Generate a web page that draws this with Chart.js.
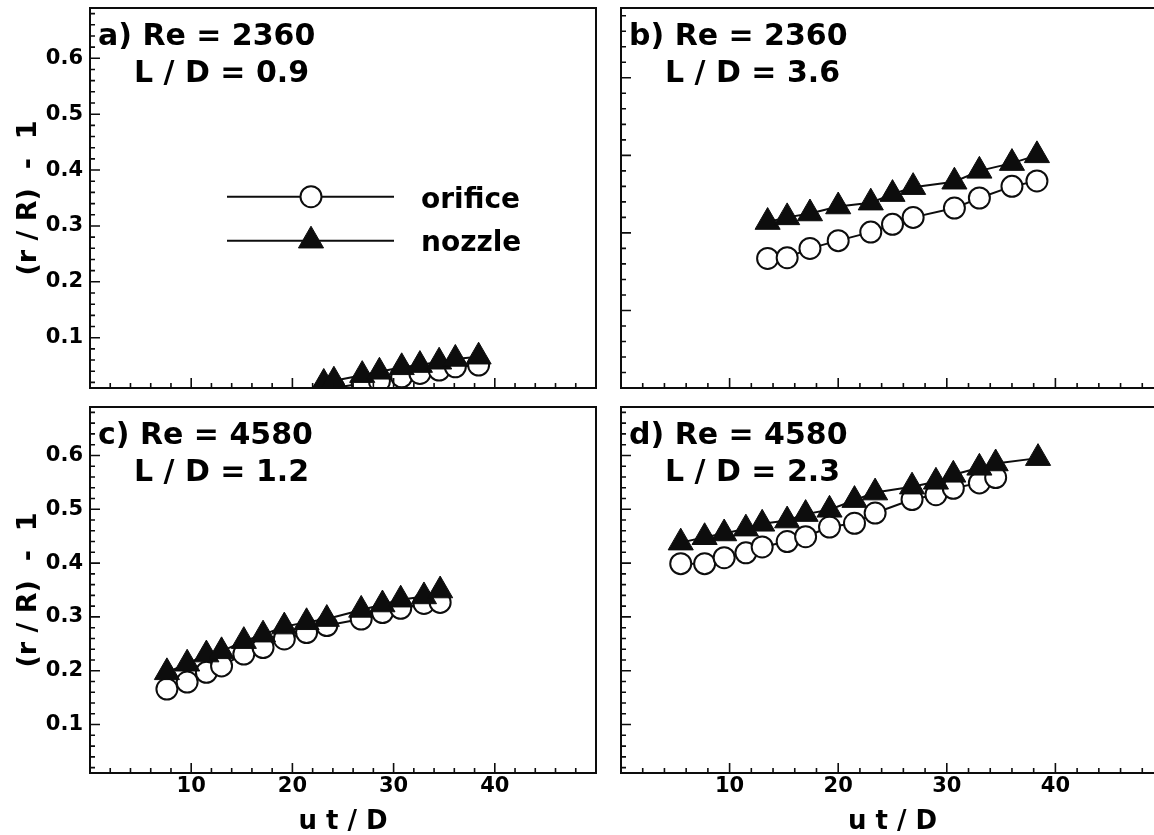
<!DOCTYPE html>
<html>
<head>
<meta charset="utf-8">
<script src="https://cdn.jsdelivr.net/npm/chart.js@4.4.1/dist/chart.umd.min.js"></script>
<style>
html, body { margin: 0; padding: 0; background: #fff; overflow: hidden; }
#wrap { position: relative; width: 1154px; height: 835px; overflow: hidden; background: #fff; }
.pn { position: absolute; }
</style>
</head>
<body>
<div id="wrap">
  <canvas id="ca" class="pn" style="left:0px;top:0px;"></canvas>
  <canvas id="cb" class="pn" style="left:605px;top:0px;"></canvas>
  <canvas id="cc" class="pn" style="left:0px;top:395px;"></canvas>
  <canvas id="cd" class="pn" style="left:605px;top:395px;"></canvas>
</div>
<script>
// ---------------- data ----------------
const seriesNames = ['orifice', 'nozzle'];
const panelTitles = ['a) Re = 2360', 'b) Re = 2360', 'c) Re = 4580', 'd) Re = 4580'];
const panelLD = ['L / D = 0.9', 'L / D = 3.6', 'L / D = 1.2', 'L / D = 2.3'];
const xTitle = 'u t / D';
const yTitle = '(r / R)  -  1';

// panel a
const xA = [23.1, 24.1, 26.9, 28.6, 30.8, 32.6, 34.5, 36.1, 38.4];
const orificeA = [0.004, 0.010, 0.018, 0.022, 0.030, 0.036, 0.042, 0.048, 0.051];
const nozzleA = [0.019, 0.023, 0.033, 0.039, 0.047, 0.051, 0.057, 0.062, 0.066];

// panel b
const xB = [13.5, 15.3, 17.4, 20.0, 23.0, 25.0, 26.9, 30.7, 33.0, 36.0, 38.3];
const orificeB = [0.167, 0.168, 0.180, 0.190, 0.201, 0.211, 0.220, 0.232, 0.245, 0.260, 0.267];
const nozzleB = [0.214, 0.220, 0.225, 0.234, 0.239, 0.250, 0.259, 0.266, 0.280, 0.290, 0.300];

// panel c
const xC = [7.6, 9.6, 11.5, 13.0, 15.2, 17.1, 19.2, 21.4, 23.4, 26.8, 28.9, 30.7, 33.0, 34.6];
const orificeC = [0.166, 0.179, 0.197, 0.209, 0.231, 0.243, 0.259, 0.271, 0.284, 0.296, 0.308, 0.316, 0.325, 0.327];
const nozzleC = [0.197, 0.213, 0.230, 0.236, 0.255, 0.267, 0.282, 0.290, 0.296, 0.313, 0.323, 0.332, 0.338, 0.349];

// panel d
const xDorifice = [5.5, 7.7, 9.5, 11.5, 13.0, 15.3, 17.0, 19.2, 21.5, 23.4, 26.8, 29.0, 30.6, 33.0, 34.5];
const orificeD = [0.399, 0.399, 0.410, 0.419, 0.430, 0.440, 0.449, 0.467, 0.474, 0.493, 0.518, 0.527, 0.539, 0.549, 0.559];
const xDnozzle = [5.5, 7.7, 9.5, 11.5, 13.0, 15.3, 17.0, 19.2, 21.5, 23.4, 26.8, 29.0, 30.6, 33.0, 34.5, 38.4];
const nozzleD = [0.438, 0.448, 0.455, 0.464, 0.473, 0.479, 0.491, 0.499, 0.517, 0.531, 0.542, 0.551, 0.564, 0.577, 0.585, 0.595];

// axes
const xRange = [0, 50];
const yRange = [0.01, 0.69];
const yRangeB = [0, 0.49];
const xTickLabels = [10, 20, 30, 40];
const xMinorTicks = [2, 4, 6, 8, 12, 14, 16, 18, 22, 24, 26, 28, 32, 34, 36, 38, 42, 44, 46, 48];
const yTickLabels = [0.1, 0.2, 0.3, 0.4, 0.5, 0.6];
const yMinorTicks = [0.02, 0.04, 0.06, 0.08, 0.12, 0.14, 0.16, 0.18, 0.22, 0.24, 0.26, 0.28,
  0.32, 0.34, 0.36, 0.38, 0.42, 0.44, 0.46, 0.48, 0.52, 0.54, 0.56, 0.58, 0.62, 0.64, 0.66, 0.68];
const yMajorTicksB = [0.1, 0.2, 0.3, 0.4];
const yMinorTicksB = [0.02, 0.04, 0.06, 0.08, 0.12, 0.14, 0.16, 0.18, 0.22, 0.24, 0.26, 0.28,
  0.32, 0.34, 0.36, 0.38, 0.42, 0.44, 0.46, 0.48];

// ---------------- rendering ----------------
const FONT = "'DejaVu Sans', 'Liberation Sans', sans-serif";
Chart.defaults.font.family = FONT;
Chart.defaults.font.weight = 'bold';
Chart.defaults.font.size = 21;
Chart.defaults.color = '#000';

const INK = '#0d0d0d';

function pts(xs, ys) { return xs.map((x, i) => ({ x: x, y: ys[i] })); }

function orificeSet(xs, ys) {
  return {
    label: seriesNames[0], data: pts(xs, ys), order: 2,
    borderColor: INK, borderWidth: 2, tension: 0, fill: false,
    pointStyle: 'circle', pointRadius: 10.5, pointHoverRadius: 10.5, pointBorderWidth: 2,
    pointBackgroundColor: '#fff', pointBorderColor: INK
  };
}
function nozzleSet(xs, ys) {
  return {
    label: seriesNames[1], data: pts(xs, ys), order: 1,
    borderColor: INK, borderWidth: 2, tension: 0, fill: false,
    pointStyle: 'triangle', pointRadius: 14.5, pointHoverRadius: 14.5, pointBorderWidth: 1,
    pointBackgroundColor: INK, pointBorderColor: INK
  };
}

const framePlugin = {
  id: 'frame',
  afterDatasetsDraw(chart, args, o) {
    const ctx = chart.ctx, a = chart.chartArea, xs = chart.scales.x, ys = chart.scales.y;
    ctx.save();
    ctx.strokeStyle = INK;
    ctx.lineWidth = 1.6;
    ctx.beginPath();
    o.xMajor.forEach(v => { const p = xs.getPixelForValue(v); ctx.moveTo(p, a.bottom); ctx.lineTo(p, a.bottom - 10); });
    o.xMinor.forEach(v => { const p = xs.getPixelForValue(v); ctx.moveTo(p, a.bottom); ctx.lineTo(p, a.bottom - 5); });
    o.yMajor.forEach(v => { const p = ys.getPixelForValue(v); ctx.moveTo(a.left, p); ctx.lineTo(a.left + 10, p); });
    o.yMinor.forEach(v => { const p = ys.getPixelForValue(v); ctx.moveTo(a.left, p); ctx.lineTo(a.left + 5, p); });
    ctx.stroke();
    ctx.lineWidth = 2;
    ctx.strokeRect(a.left, a.top, a.right - a.left, a.bottom - a.top);

    // panel annotation
    ctx.fillStyle = '#000';
    ctx.font = 'bold 30px ' + FONT;
    ctx.textAlign = 'left';
    ctx.textBaseline = 'alphabetic';
    ctx.fillText(o.title, a.left + 8, a.top + 36.5);
    ctx.fillText(o.ld, a.left + 44, a.top + 74);

    if (o.legend) {
      const lx0 = 227, lx1 = 394, mx = 311;
      const rows = [
        { y: 196.7, name: seriesNames[0], style: 'circle', base: 207.5 },
        { y: 240.7, name: seriesNames[1], style: 'triangle', base: 251 }
      ];
      rows.forEach(r => {
        ctx.strokeStyle = INK; ctx.lineWidth = 2;
        ctx.beginPath(); ctx.moveTo(lx0, r.y); ctx.lineTo(lx1, r.y); ctx.stroke();
        if (r.style === 'circle') {
          ctx.beginPath(); ctx.arc(mx, r.y, 10.5, 0, Math.PI * 2);
          ctx.fillStyle = '#fff'; ctx.fill(); ctx.lineWidth = 2; ctx.stroke();
        } else {
          const R = 14.5;
          ctx.beginPath();
          ctx.moveTo(mx, r.y - R);
          ctx.lineTo(mx + R * Math.sin(2 * Math.PI / 3), r.y - R * Math.cos(2 * Math.PI / 3));
          ctx.lineTo(mx + R * Math.sin(4 * Math.PI / 3), r.y - R * Math.cos(4 * Math.PI / 3));
          ctx.closePath();
          ctx.fillStyle = INK; ctx.fill(); ctx.lineWidth = 1; ctx.stroke();
        }
        ctx.fillStyle = '#000';
        ctx.font = 'bold 28px ' + FONT;
        ctx.fillText(r.name, 421, r.base);
      });
    }
    ctx.restore();
  }
};

function makePanel(id, w, h, cfg) {
  const cv = document.getElementById(id);
  cv.width = w; cv.height = h;
  cv.style.width = w + 'px'; cv.style.height = h + 'px';
  const xAxis = {
    type: 'linear', position: 'bottom', min: xRange[0], max: xRange[1],
    display: cfg.showX,
    grid: { display: false, drawTicks: false }, border: { display: false },
    afterBuildTicks: s => { s.ticks = xTickLabels.map(v => ({ value: v })); },
    ticks: { padding: 1, autoSkip: false, maxRotation: 0, font: { size: 21, weight: 'bold' }, color: '#000' },
    title: { display: cfg.showX, text: xTitle, font: { size: 26, weight: 'bold' }, color: '#000', padding: { top: 0, bottom: 2.4 } },
    afterFit: s => { if (cfg.showX) { s.height = 67; } s.paddingLeft = 0; s.paddingRight = 0; }
  };
  const yAxis = {
    type: 'linear', position: 'left', min: cfg.yRange[0], max: cfg.yRange[1],
    display: cfg.showY,
    grid: { display: false, drawTicks: false }, border: { display: false },
    afterBuildTicks: s => { s.ticks = yTickLabels.map(v => ({ value: v })); },
    ticks: { padding: 7, font: { size: 21, weight: 'bold' }, color: '#000', callback: v => Number(v).toFixed(1) },
    title: { display: cfg.showY, text: yTitle, font: { size: 27, weight: 'bold' }, color: '#000', padding: { top: 13, bottom: 0 } },
    afterFit: s => { if (cfg.showY) { s.width = 90; } s.paddingTop = 0; s.paddingBottom = 0; }
  };
  return new Chart(cv, {
    type: 'line',
    data: { datasets: cfg.datasets },
    options: {
      responsive: false, animation: false, devicePixelRatio: 1,
      layout: { padding: cfg.padding, autoPadding: false },
      scales: { x: xAxis, y: yAxis },
      plugins: {
        legend: { display: false }, tooltip: { enabled: false },
        frame: cfg.frame
      }
    },
    plugins: [framePlugin]
  });
}

makePanel('ca', 605, 400, {
  showX: false, showY: true, yRange: yRange,
  padding: { left: 0, top: 8, right: 9, bottom: 12 },
  datasets: [orificeSet(xA, orificeA), nozzleSet(xA, nozzleA)],
  frame: { xMajor: xTickLabels, xMinor: xMinorTicks, yMajor: yTickLabels, yMinor: yMinorTicks,
           title: panelTitles[0], ld: panelLD[0], legend: true }
});
makePanel('cb', 575, 400, {
  showX: false, showY: false, yRange: yRangeB,
  padding: { left: 16, top: 8, right: 16, bottom: 12 },
  datasets: [orificeSet(xB, orificeB), nozzleSet(xB, nozzleB)],
  frame: { xMajor: xTickLabels, xMinor: xMinorTicks, yMajor: yMajorTicksB, yMinor: yMinorTicksB,
           title: panelTitles[1], ld: panelLD[1], legend: false }
});
makePanel('cc', 605, 445, {
  showX: true, showY: true, yRange: yRange,
  padding: { left: 0, top: 12, right: 9, bottom: 0 },
  datasets: [orificeSet(xC, orificeC), nozzleSet(xC, nozzleC)],
  frame: { xMajor: xTickLabels, xMinor: xMinorTicks, yMajor: yTickLabels, yMinor: yMinorTicks,
           title: panelTitles[2], ld: panelLD[2], legend: false }
});
makePanel('cd', 575, 445, {
  showX: true, showY: false, yRange: yRange,
  padding: { left: 16, top: 12, right: 16, bottom: 0 },
  datasets: [orificeSet(xDorifice, orificeD), nozzleSet(xDnozzle, nozzleD)],
  frame: { xMajor: xTickLabels, xMinor: xMinorTicks, yMajor: yTickLabels, yMinor: yMinorTicks,
           title: panelTitles[3], ld: panelLD[3], legend: false }
});
</script>
</body>
</html>
